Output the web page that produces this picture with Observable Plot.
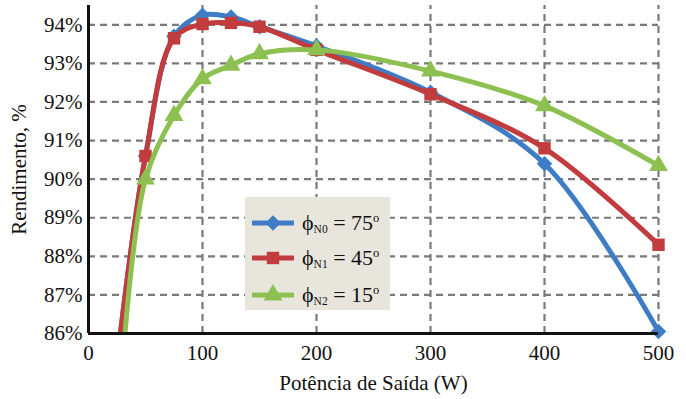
<!DOCTYPE html>
<html>
<head>
<meta charset="utf-8">
<script src="https://cdn.jsdelivr.net/npm/d3@7"></script>
<script src="https://cdn.jsdelivr.net/npm/@observablehq/plot@0.6"></script>
<style>
  html, body { margin: 0; padding: 0; background: #fff; }
  #wrap { position: relative; width: 686px; height: 399px; }
  #legend {
    position: absolute; left: 245px; top: 197px; width: 145px; height: 113px;
    background: #e8e5dc; font-family: "Liberation Serif", Tinos, "DejaVu Serif", serif;
    color: #111;
  }
  .row { position: absolute; left: 7px; height: 24px; display: flex; align-items: center; }
  .row svg { display: block; }
  .lab { margin-left: 8px; font-size: 22px; white-space: nowrap; }
  .lab sub { font-size: 11.5px; vertical-align: -3px; }
  .lab sup { font-size: 12.5px; vertical-align: 8px; }
</style>
</head>
<body>
<div id="wrap"></div>
<script>
// Output power (W) at the measured points
const power = [50, 75, 100, 125, 150, 200, 300, 400, 500];

// Efficiency (%) for each phase angle
const effN0 = [90.6, 93.7, 94.25, 94.2, 93.95, 93.45, 92.25, 90.4, 86.05];
const effN1 = [90.6, 93.65, 94.02, 94.05, 93.95, 93.35, 92.2, 90.8, 88.3];
const effN2 = [90.0, 91.65, 92.6, 92.95, 93.25, 93.35, 92.8, 91.9, 90.35];

// Where each curve enters from the bottom edge (power, efficiency)
const entryN0 = [28, 86];
const entryN1 = [28, 86];
const entryN2 = [32, 86];

const seriesNames = ["N0", "N1", "N2"];
const seriesAngles = ["75", "45", "15"];
const seriesColors = ["#3f7cc6", "#c23b3d", "#8cc152"];
const seriesSymbols = ["diamond2", "square", "triangle"];

const xTicks = [0, 100, 200, 300, 400, 500];
const yTicks = [86, 87, 88, 89, 90, 91, 92, 93, 94];

const effs = [effN0, effN1, effN2];
const entries = [entryN0, entryN1, entryN2];

const points = [];
const curves = [];
effs.forEach((vals, s) => {
  curves.push({series: seriesNames[s], x: entries[s][0], y: entries[s][1]});
  vals.forEach((v, i) => {
    const d = {series: seriesNames[s], x: power[i], y: v};
    points.push(d);
    curves.push(d);
  });
});

const font = '"Liberation Serif", Tinos, "DejaVu Serif", serif';

const marks = [
  // dashed grid
  Plot.ruleY(yTicks.slice(1), {stroke: "#7a7a7a", strokeWidth: 2.2, strokeDasharray: "7,5"}),
  Plot.ruleX(xTicks.slice(1), {y1: 86, y2: 94.5, stroke: "#7a7a7a", strokeWidth: 2.2, strokeDasharray: "7,5"}),
  // axes
  Plot.axisY(yTicks, {tickSize: 0, tickPadding: 6, tickFormat: d => d + "%",
    fill: "#111", label: "Rendimento, %", labelAnchor: "center",
    labelArrow: "none", labelOffset: 77}),
  Plot.axisX(xTicks, {tickSize: 0, tickPadding: 12, fill: "#111",
    label: "Potência de Saída (W)", labelAnchor: "center", labelArrow: "none", labelOffset: 56}),
];

seriesNames.forEach((name, s) => {
  marks.push(
    Plot.line(curves.filter(d => d.series === name), {
      x: "x", y: "y", stroke: seriesColors[s], strokeWidth: 5, curve: "catmull-rom", clip: true
    }),
    Plot.dot(points.filter(d => d.series === name), {
      x: "x", y: "y", fill: seriesColors[s], symbol: seriesSymbols[s], r: 7, stroke: "none"
    })
  );
});

marks.push(
  Plot.ruleX([0], {y1: 86, y2: 94.5, stroke: "#111", strokeWidth: 3}),
  Plot.ruleY([86], {x1: 0, x2: 500, stroke: "#111", strokeWidth: 3})
);

const chart = Plot.plot({
  width: 686,
  height: 399,
  marginLeft: 88,
  marginRight: 28,
  marginTop: 5,
  marginBottom: 66,
  x: {domain: [0, 500]},
  y: {domain: [86, 94.5]},
  style: {fontSize: "21px", color: "#111", background: "#fff"},
  marks
});
chart.style.fontFamily = font;
chart.querySelectorAll("text").forEach(t => {
  t.setAttribute("font-family", font);
  t.setAttribute("font-size", "21");
});

const wrap = document.getElementById("wrap");
wrap.appendChild(chart);

// Legend inside the plot area
const legend = document.createElement("div");
legend.id = "legend";
const rowTops = [14, 49, 86];
const symMap = {diamond2: d3.symbolDiamond2, square: d3.symbolSquare, triangle: d3.symbolTriangle};
seriesNames.forEach((name, s) => {
  const row = document.createElement("div");
  row.className = "row";
  row.style.top = rowTops[s] + "px";
  const sw = d3.create("svg").attr("width", 42).attr("height", 24);
  sw.append("line").attr("x1", 1).attr("x2", 41).attr("y1", 12).attr("y2", 12)
    .attr("stroke", seriesColors[s]).attr("stroke-width", 5).attr("stroke-linecap", "round");
  sw.append("path").attr("transform", "translate(21,12)")
    .attr("d", d3.symbol(symMap[seriesSymbols[s]], 7 * 7 * Math.PI)())
    .attr("fill", seriesColors[s]);
  row.appendChild(sw.node());
  const lab = document.createElement("span");
  lab.className = "lab";
  lab.innerHTML = "ϕ<sub>" + name + "</sub> = " + seriesAngles[s] + "<sup>o</sup>";
  row.appendChild(lab);
  legend.appendChild(row);
});
wrap.appendChild(legend);
</script>
</body>
</html>
